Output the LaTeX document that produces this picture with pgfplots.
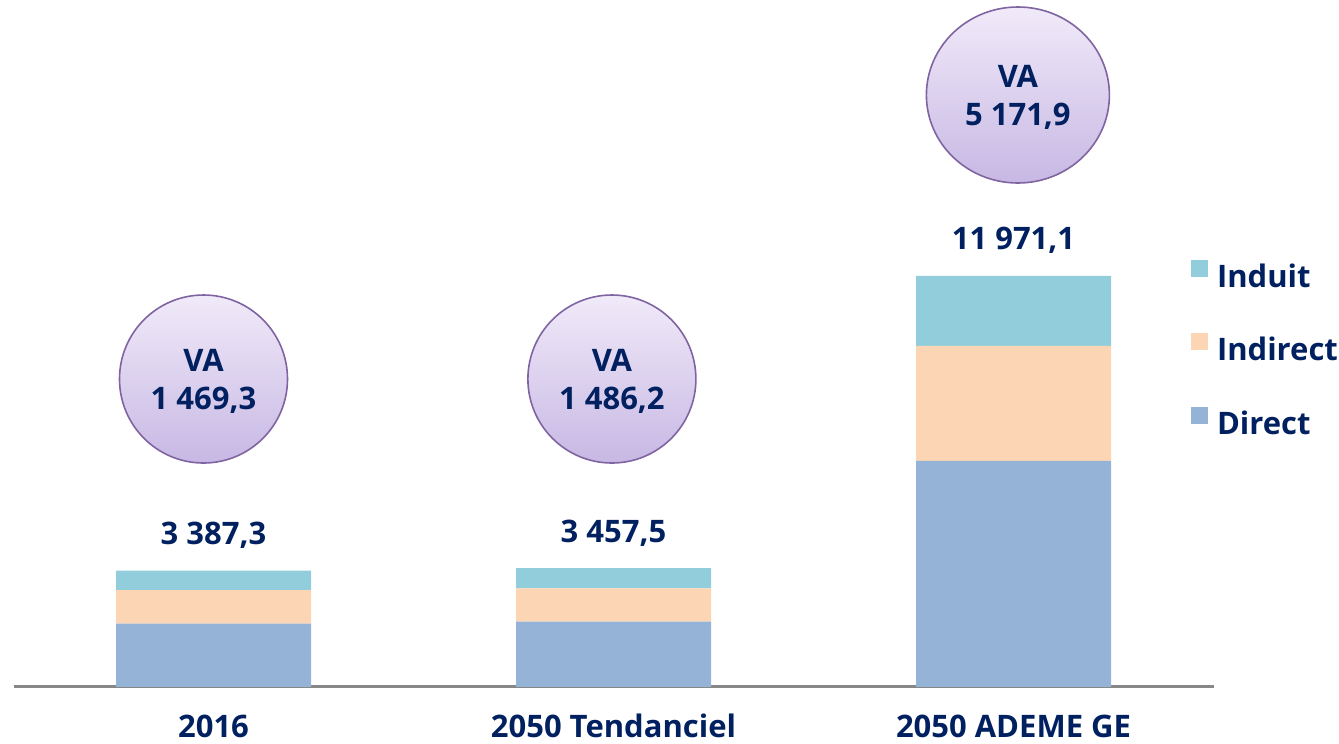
\documentclass[border=0pt]{standalone}
\usepackage{fontspec}
\setmainfont{Open Sans}
\usepackage{pgfplots}
\usepackage{pgfplotstable}
\pgfplotsset{compat=1.18}
\definecolor{navy}{RGB}{0,32,96}
\definecolor{cdirect}{HTML}{95B3D7}
\definecolor{cindirect}{HTML}{FCD5B5}
\definecolor{cinduit}{HTML}{92CDDC}
\definecolor{axgray}{HTML}{878787}
\definecolor{ctop}{RGB}{241,234,249}
\definecolor{cbot}{RGB}{199,184,228}
\definecolor{cborder}{HTML}{8064A2}
\pgfplotstableread{
x direct indirect induit
0 1842 978 567.3
1 1905 967 585.5
2 6583 3350 2038.1
}\mytab
\newcommand{\lblfont}{\fontsize{15.5}{18.8}\selectfont\bfseries}
\begin{document}
\begin{tikzpicture}
\useasboundingbox (-6.75pt,-28.5pt) rectangle (662.75pt,343.5pt);
\begin{axis}[
  scale only axis,
  width=600pt, height=343.5pt,
  xmin=-0.5, xmax=2.5, ymin=0, ymax=20000,
  ybar stacked, bar width=97.5pt,
  axis x line*=bottom, axis y line=none,
  axis line style={draw=axgray, line width=1.5pt},
  xtick={0,1,2}, xticklabels={2016,2050 Tendanciel,2050 ADEME GE},
  major tick length=0pt,
  xticklabel style={anchor=base, yshift=-25pt, inner sep=0pt, text=navy,
     font=\lblfont},
  legend reversed,
  legend style={draw=none, fill=none, at={(0.98125,0.622)}, anchor=north west,
     inner sep=0pt, outer sep=0pt, row sep=19.5pt, column sep=4.5pt,
     font=\lblfont, text=navy,
     nodes={inner sep=0pt, text height=12pt, text depth=3.5pt}},
  legend cell align=left,
  legend image code/.code={\fill[#1] (0pt,1pt) rectangle (8.5pt,9.5pt);},
]
\addplot[fill=cdirect, draw=none] table[x=x, y=direct] {\mytab};
\addlegendentry{Direct}
\addplot[fill=cindirect, draw=none] table[x=x, y=indirect] {\mytab};
\addlegendentry{Indirect}
\addplot[fill=cinduit, draw=none] table[x=x, y=induit] {\mytab};
\addlegendentry{Induit}

\node[anchor=base, yshift=13pt, font=\lblfont, text=navy] at (axis cs:0,3387.3) {3 387,3};
\node[anchor=base, yshift=13pt, font=\lblfont, text=navy] at (axis cs:1,3457.5) {3 457,5};
\node[anchor=base, yshift=13pt, font=\lblfont, text=navy] at (axis cs:2,11971.1) {11 971,1};

\coordinate (c1) at (axis cs:-0.025,8966);
\coordinate (c2) at (axis cs:0.996,8966);
\coordinate (c3) at (axis cs:2.011,17234);
\end{axis}
\draw[cborder, line width=0.8pt, top color=ctop, bottom color=cbot] (c1) ellipse [x radius=42pt, y radius=42pt];
\draw[cborder, line width=0.8pt, top color=ctop, bottom color=cbot] (c2) ellipse [x radius=42pt, y radius=42pt];
\draw[cborder, line width=0.8pt, top color=ctop, bottom color=cbot] (c3) ellipse [x radius=45.75pt, y radius=44pt];
\begin{scope}[every node/.style={anchor=base, inner sep=0pt, font=\lblfont, text=navy}]
\node[yshift=3.65pt] at (c1) {VA};
\node[yshift=-15.15pt] at (c1) {1 469,3};
\node[yshift=3.65pt] at (c2) {VA};
\node[yshift=-15.15pt] at (c2) {1 486,2};
\node[yshift=3.65pt] at (c3) {VA};
\node[yshift=-15.15pt] at (c3) {5 171,9};
\end{scope}
\end{tikzpicture}
\end{document}
